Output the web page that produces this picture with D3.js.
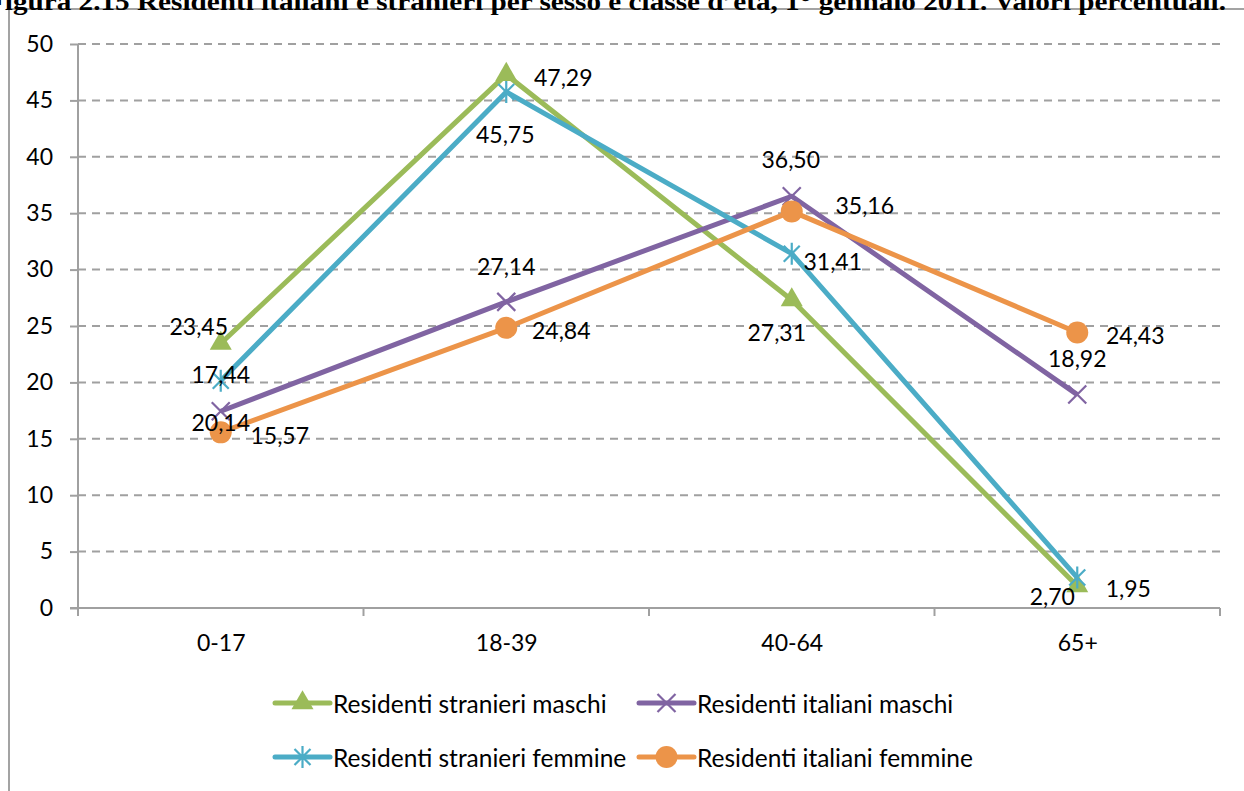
<!DOCTYPE html>
<html><head><meta charset="utf-8">
<script src="https://cdn.jsdelivr.net/npm/d3@7"></script>
<style>
body{margin:0;background:#fff;overflow:hidden}
text{font-family:Lato,'Open Sans',sans-serif}
</style>
</head><body>
<svg id="c" width="1244" height="791"></svg>
<script>
// ---- data ----
const title = "Figura 2.15 Residenti italiani e stranieri per sesso e classe d’età, 1° gennaio 2011. Valori percentuali.";
const categories = ["0-17", "18-39", "40-64", "65+"];
const seriesNames = ["Residenti stranieri maschi", "Residenti italiani maschi", "Residenti stranieri femmine", "Residenti italiani femmine"];
const stranieriMaschi  = [23.45, 47.29, 27.31, 1.95];
const italianiMaschi   = [17.44, 27.14, 36.50, 18.92];
const stranieriFemmine = [20.14, 45.75, 31.41, 2.70];
const italianiFemmine  = [15.57, 24.84, 35.16, 24.43];
const yTicks = [0, 5, 10, 15, 20, 25, 30, 35, 40, 45, 50];

// ---- styles / layout ----
const colors = ["#9bbb59", "#8064a2", "#4bacc6", "#ec9449"];
const markers = ["triangle", "x", "star", "circle"];
// label offsets (px) from each point, as placed in the original
const labelOffsets = [
  [[-22,-17],[57,2],[-15,32],[51,2]],
  [[0,-37],[0,-36],[-1,-37],[0,-37]],
  [[0,41],[-1,42],[41,7],[-25,18]],
  [[59,3],[55,2],[73,-6],[58,3]]
];
const series = [stranieriMaschi, italianiMaschi, stranieriFemmine, italianiFemmine];

const svg = d3.select("#c");
const plot = {left: 78, right: 1220, top: 44, bottom: 608};
const fs = 23;

// outer border
svg.append("rect").attr("x", 9).attr("y", 9).attr("width", 1260).attr("height", 800)
  .attr("fill", "none").attr("stroke", "#a3a3a3").attr("stroke-width", 2);

// title (cut off at top, as in the original)
svg.append("text").attr("x", -13).attr("y", 10).text(title)
  .attr("font-weight", "bold")
  .attr("font-size", 25).attr("textLength", 1239).attr("lengthAdjust", "spacingAndGlyphs")
  .style("font-family", "'Liberation Serif',serif");

const x = d3.scalePoint().domain(categories).range([plot.left, plot.right]).padding(0.5);
const y = d3.scaleLinear().domain([0, 50]).range([plot.bottom, plot.top]);

// gridlines
svg.append("g").selectAll("line").data(yTicks.filter(d => d > 0)).join("line")
  .attr("x1", plot.left).attr("x2", plot.right)
  .attr("y1", d => y(d)).attr("y2", d => y(d))
  .attr("stroke", "#a0a0a0").attr("stroke-width", 2).attr("stroke-dasharray", "8,6");

// y axis
const yAxis = svg.append("g").attr("transform", `translate(${plot.left},0)`)
  .call(d3.axisLeft(y).tickValues(yTicks).tickSize(8).tickPadding(17).tickFormat(d3.format("d")));
yAxis.select(".domain").attr("stroke", "#a0a0a0").attr("stroke-width", 2)
  .attr("d", `M0,${plot.top}V${plot.bottom + 8}`);
yAxis.selectAll(".tick line").attr("stroke", "#a0a0a0").attr("stroke-width", 2);
yAxis.selectAll(".tick text").attr("font-size", fs).attr("fill", "#000").attr("font-family", null);

// x axis
const xAxis = svg.append("g").attr("transform", `translate(0,${plot.bottom})`)
  .call(d3.axisBottom(x).tickSize(0).tickPadding(27));
xAxis.select(".domain").attr("stroke", "#a0a0a0").attr("stroke-width", 2)
  .attr("d", `M${plot.left - 8},0H${plot.right}`);
xAxis.selectAll(".tick text").attr("font-size", fs).attr("fill", "#000").attr("font-family", null);
const bounds = categories.map(c => x(c) + x.step() / 2).concat([plot.left]);
xAxis.append("g").selectAll("line").data(bounds).join("line")
  .attr("x1", d => d).attr("x2", d => d).attr("y1", 0).attr("y2", 8)
  .attr("stroke", "#a0a0a0").attr("stroke-width", 2);

function drawMarker(g, type, color) {
  if (type === "triangle") {
    g.append("path").attr("d", d3.symbol(d3.symbolTriangle, 210)()).attr("fill", color);
  } else if (type === "circle") {
    g.append("circle").attr("r", 11).attr("fill", color);
  } else if (type === "x") {
    g.append("path").attr("d", "M-9,-9L9,9M-9,9L9,-9").attr("stroke", color).attr("stroke-width", 2.2);
  } else if (type === "star") {
    g.append("path").attr("d", "M-8,-8L8,8M-8,8L8,-8M0,-11V11").attr("stroke", color).attr("stroke-width", 2.2);
  }
}

const line = d3.line().x((d, i) => x(categories[i])).y(d => y(d));
const fmt = v => d3.format(".2f")(v).replace(".", ",");

series.forEach((vals, s) => {
  const g = svg.append("g");
  g.append("path").datum(vals).attr("d", line).attr("fill", "none")
    .attr("stroke", colors[s]).attr("stroke-width", 5).attr("stroke-linejoin", "round");
  vals.forEach((v, i) => {
    const m = g.append("g").attr("transform", `translate(${x(categories[i])},${y(v)})`);
    drawMarker(m, markers[s], colors[s]);
  });
});
// labels on top
series.forEach((vals, s) => {
  svg.append("g").selectAll("text").data(vals).join("text")
    .attr("x", (d, i) => x(categories[i]) + labelOffsets[s][i][0])
    .attr("y", (d, i) => y(d) + labelOffsets[s][i][1])
    .attr("text-anchor", "middle").attr("dominant-baseline", "central")
    .attr("font-size", fs).attr("fill", "#000").text(d => fmt(d));
});

// legend
const legPos = [[275, 703], [639, 703], [275, 757], [639, 757]];
seriesNames.forEach((name, s) => {
  const [lx, ly] = legPos[s];
  const g = svg.append("g").attr("transform", `translate(${lx},${ly})`);
  g.append("line").attr("x1", 0).attr("x2", 55).attr("stroke", colors[s])
    .attr("stroke-width", 5).attr("stroke-linecap", "round");
  const m = g.append("g").attr("transform", "translate(27.5,0)");
  drawMarker(m, markers[s], colors[s]);
  g.append("text").attr("x", 58).attr("dominant-baseline", "central")
    .attr("font-size", 24.5).attr("fill", "#000").text(name);
});
</script>
</body></html>
